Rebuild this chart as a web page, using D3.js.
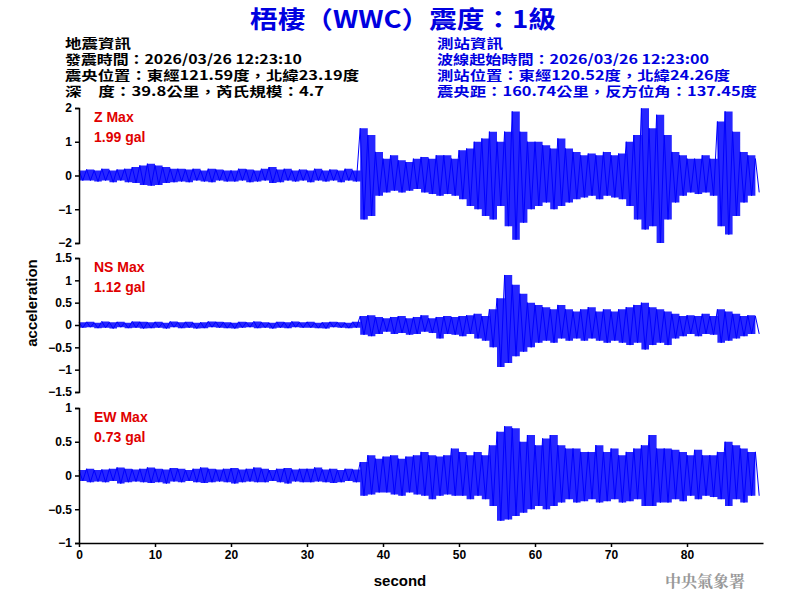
<!DOCTYPE html>
<html><head><meta charset="utf-8">
<script src="https://cdn.jsdelivr.net/npm/d3@7"></script>
<style>body{margin:0;background:#fff}text{font-family:Arial,"Liberation Sans",sans-serif}</style>
</head><body><svg id="svg" width="800" height="600"></svg>
<script>
// per-second peak envelopes (gal)
const zUp = [0.15,0.18,0.15,0.2,0.15,0.18,0.2,0.25,0.3,0.35, 0.3,0.25,0.2,0.2,0.18,0.2,0.15,0.2,0.18,0.15,
  0.15,0.2,0.18,0.15,0.2,0.25,0.18,0.2,0.15,0.18, 0.15,0.2,0.15,0.18,0.15,0.2,0.15,1.4,1.2,0.7,
  0.5,0.6,0.45,0.4,0.5,0.55,0.5,0.6,0.6,0.5, 0.75,0.8,1.0,1.1,1.3,1.0,1.3,1.9,1.3,1.0,
  1.0,0.9,0.8,1.1,0.8,0.7,0.6,0.65,0.6,0.7, 0.6,0.65,1.0,1.2,1.99,1.4,1.8,1.2,0.7,0.6,
  0.5,0.5,0.6,0.5,1.6,1.9,1.3,0.7,0.6,0.5];
const zLo = [-0.15,-0.15,-0.18,-0.15,-0.2,-0.15,-0.2,-0.22,-0.28,-0.3, -0.28,-0.22,-0.2,-0.18,-0.2,-0.15,-0.18,-0.2,-0.15,-0.18,
  -0.18,-0.15,-0.2,-0.18,-0.15,-0.22,-0.2,-0.15,-0.18,-0.15, -0.2,-0.15,-0.18,-0.15,-0.2,-0.15,-0.18,-1.3,-1.2,-0.6,
  -0.5,-0.45,-0.5,-0.45,-0.4,-0.5,-0.55,-0.6,-0.55,-0.6, -0.7,-0.9,-1.0,-1.2,-1.3,-0.9,-1.5,-1.9,-1.4,-1.0,
  -0.9,-0.8,-1.0,-0.9,-0.8,-0.7,-0.65,-0.6,-0.7,-0.6, -0.65,-0.7,-0.9,-1.3,-1.6,-1.5,-2.0,-1.3,-0.8,-0.6,
  -0.5,-0.55,-0.5,-0.6,-1.5,-1.75,-1.2,-0.8,-0.6,-0.5];
const nsUp = [0.06,0.07,0.05,0.08,0.06,0.07,0.05,0.08,0.07,0.06, 0.07,0.05,0.08,0.06,0.07,0.05,0.06,0.08,0.07,0.06,
  0.05,0.07,0.06,0.08,0.06,0.05,0.07,0.06,0.08,0.06, 0.07,0.05,0.06,0.07,0.06,0.05,0.07,0.2,0.22,0.18,
  0.15,0.18,0.2,0.15,0.18,0.22,0.15,0.18,0.2,0.18, 0.2,0.22,0.25,0.2,0.35,0.6,1.12,0.9,0.7,0.5,
  0.45,0.4,0.35,0.45,0.35,0.3,0.35,0.4,0.3,0.35, 0.3,0.35,0.4,0.45,0.5,0.4,0.35,0.3,0.25,0.2,
  0.22,0.2,0.25,0.2,0.35,0.3,0.25,0.2,0.22,0.2];
const nsLo = [-0.06,-0.05,-0.07,-0.06,-0.08,-0.05,-0.07,-0.06,-0.08,-0.07, -0.06,-0.08,-0.05,-0.07,-0.06,-0.08,-0.07,-0.05,-0.06,-0.07,
  -0.08,-0.06,-0.05,-0.07,-0.06,-0.08,-0.06,-0.07,-0.05,-0.06, -0.06,-0.07,-0.08,-0.05,-0.06,-0.07,-0.06,-0.22,-0.25,-0.2,
  -0.15,-0.2,-0.18,-0.22,-0.2,-0.15,-0.18,-0.3,-0.2,-0.22, -0.25,-0.2,-0.3,-0.35,-0.5,-0.94,-0.85,-0.7,-0.6,-0.5,
  -0.4,-0.35,-0.4,-0.3,-0.35,-0.3,-0.35,-0.3,-0.35,-0.4, -0.35,-0.4,-0.45,-0.4,-0.55,-0.45,-0.4,-0.45,-0.3,-0.25,
  -0.2,-0.25,-0.2,-0.22,-0.4,-0.35,-0.3,-0.25,-0.2,-0.2];
const ewUp = [0.08,0.1,0.08,0.09,0.1,0.12,0.1,0.09,0.1,0.12, 0.1,0.09,0.11,0.1,0.08,0.1,0.12,0.1,0.09,0.1,
  0.11,0.09,0.1,0.12,0.1,0.08,0.1,0.11,0.09,0.1, 0.1,0.12,0.09,0.1,0.08,0.1,0.09,0.2,0.3,0.25,
  0.28,0.3,0.25,0.28,0.3,0.35,0.3,0.28,0.3,0.4, 0.35,0.3,0.35,0.3,0.45,0.65,0.73,0.7,0.5,0.6,
  0.45,0.55,0.6,0.45,0.4,0.4,0.35,0.35,0.45,0.35, 0.4,0.3,0.35,0.4,0.45,0.6,0.4,0.4,0.38,0.35,
  0.3,0.38,0.3,0.3,0.35,0.5,0.45,0.4,0.35,0.35];
const ewLo = [-0.08,-0.1,-0.09,-0.1,-0.08,-0.12,-0.1,-0.09,-0.1,-0.11, -0.1,-0.12,-0.09,-0.1,-0.08,-0.1,-0.11,-0.1,-0.09,-0.1,
  -0.12,-0.1,-0.09,-0.1,-0.1,-0.08,-0.1,-0.12,-0.09,-0.1, -0.1,-0.09,-0.1,-0.11,-0.1,-0.08,-0.1,-0.3,-0.28,-0.25,
  -0.25,-0.28,-0.3,-0.25,-0.28,-0.3,-0.35,-0.3,-0.28,-0.3, -0.3,-0.35,-0.3,-0.35,-0.45,-0.67,-0.65,-0.6,-0.55,-0.5,
  -0.45,-0.5,-0.45,-0.4,-0.35,-0.4,-0.38,-0.35,-0.4,-0.38, -0.35,-0.4,-0.38,-0.35,-0.45,-0.45,-0.4,-0.4,-0.35,-0.38,
  -0.3,-0.35,-0.3,-0.32,-0.35,-0.45,-0.35,-0.4,-0.3,-0.3];
const xTicks = [0,10,20,30,40,50,60,70,80];
const panels = [
  {name:"Z Max", peak:"1.99 gal", up:zUp, lo:zLo, dom:[-2,2], ticks:[-2,-1,0,1,2], top:108, bot:243},
  {name:"NS Max", peak:"1.12 gal", up:nsUp, lo:nsLo, dom:[-1.5,1.5], ticks:[-1.5,-1,-0.5,0,0.5,1,1.5], top:258, bot:392},
  {name:"EW Max", peak:"0.73 gal", up:ewUp, lo:ewLo, dom:[-1,1], ticks:[-1,-0.5,0,0.5,1], top:408, bot:543}
];
const header = ["地震資訊","發震時間：2026/03/26 12:23:10","震央位置：東經121.59度，北緯23.19度","深　度：39.8公里，芮氏規模：4.7"];
const headerW = [66, 237, 294, 259];
const station = ["測站資訊","波線起始時間：2026/03/26 12:23:00","測站位置：東經120.52度，北緯24.26度","震央距：160.74公里，反方位角：137.45度"];
const stationW = [66, 272, 293, 320];

const svg = d3.select("#svg");
const x = d3.scaleLinear().domain([0, 90]).range([79, 763]);
const cjk = "'Noto Sans CJK TC',Arial,sans-serif";

svg.append("text").attr("x", 250).attr("y", 28).attr("textLength", 306).attr("lengthAdjust", "spacingAndGlyphs")
  .attr("fill", "#0000e0").attr("font-size", 24).attr("font-weight", "bold")
  .style("font-family", cjk).text("梧棲（WWC）震度：1級");
header.forEach((t, i) => svg.append("text").attr("x", 65).attr("y", 48 + i * 16)
  .attr("textLength", headerW[i]).attr("lengthAdjust", "spacingAndGlyphs")
  .attr("font-size", 13).attr("font-weight", "bold").style("font-family", cjk).text(t));
station.forEach((t, i) => svg.append("text").attr("x", 437).attr("y", 48 + i * 16).attr("fill", "#0000e0")
  .attr("textLength", stationW[i]).attr("lengthAdjust", "spacingAndGlyphs")
  .attr("font-size", 13).attr("font-weight", "bold").style("font-family", cjk).text(t));

panels.forEach(p => {
  const y = d3.scaleLinear().domain(p.dom).range([p.bot, p.top]);
  const idx = d3.range(p.up.length);
  svg.append("path").datum(idx)
    .attr("d", d3.area().curve(d3.curveStepAfter).x(i => x(i)).y0(i => y(p.lo[i])).y1(i => y(p.up[i])))
    .attr("fill", "#0000ff").attr("opacity", 0.85);
  const pts = [];
  p.up.forEach((u, i) => { pts.push([i, u]); pts.push([i + 0.5, p.lo[i]]); });
  svg.append("path").attr("d", d3.line().x(d => x(d[0])).y(d => y(d[1]))(pts))
    .attr("fill", "none").attr("stroke", "#0000ff").attr("stroke-width", 1);
  svg.append("g").attr("transform", "translate(79,0)")
    .call(d3.axisLeft(y).tickValues(p.ticks).tickSize(4).tickFormat(d3.format("")))
    .call(g => g.selectAll("text").attr("font-size", 12).attr("font-weight", "bold").attr("fill", "#000"))
    .call(g => g.selectAll("path,line").attr("stroke", "#000").attr("stroke-width", 1.5));
  svg.append("text").attr("x", 94).attr("y", p.top + 14).attr("fill", "#e00000")
    .attr("font-size", 14).attr("font-weight", "bold").text(p.name);
  svg.append("text").attr("x", 94).attr("y", p.top + 34).attr("fill", "#e00000")
    .attr("font-size", 14).attr("font-weight", "bold").text(p.peak);
});

svg.append("g").attr("transform", "translate(0,543)")
  .call(d3.axisBottom(x).tickValues(xTicks).tickSize(4).tickSizeOuter(0))
  .call(g => g.selectAll("text").attr("font-size", 12).attr("font-weight", "bold").attr("fill", "#000"))
  .call(g => g.selectAll("path,line").attr("stroke", "#000").attr("stroke-width", 1.5));

svg.append("text").attr("x", 400).attr("y", 586).attr("text-anchor", "middle")
  .attr("font-size", 15).attr("font-weight", "bold").text("second");
svg.append("text").attr("transform", "translate(37,303) rotate(-90)").attr("text-anchor", "middle")
  .attr("font-size", 15).attr("font-weight", "bold").text("acceleration");
svg.append("text").attr("x", 745).attr("y", 587).attr("text-anchor", "end").attr("fill", "#999")
  .attr("font-size", 16).attr("font-weight", "bold").style("font-family", "'Noto Serif CJK TC','Noto Sans CJK TC',serif")
  .text("中央氣象署");
</script></body></html>
